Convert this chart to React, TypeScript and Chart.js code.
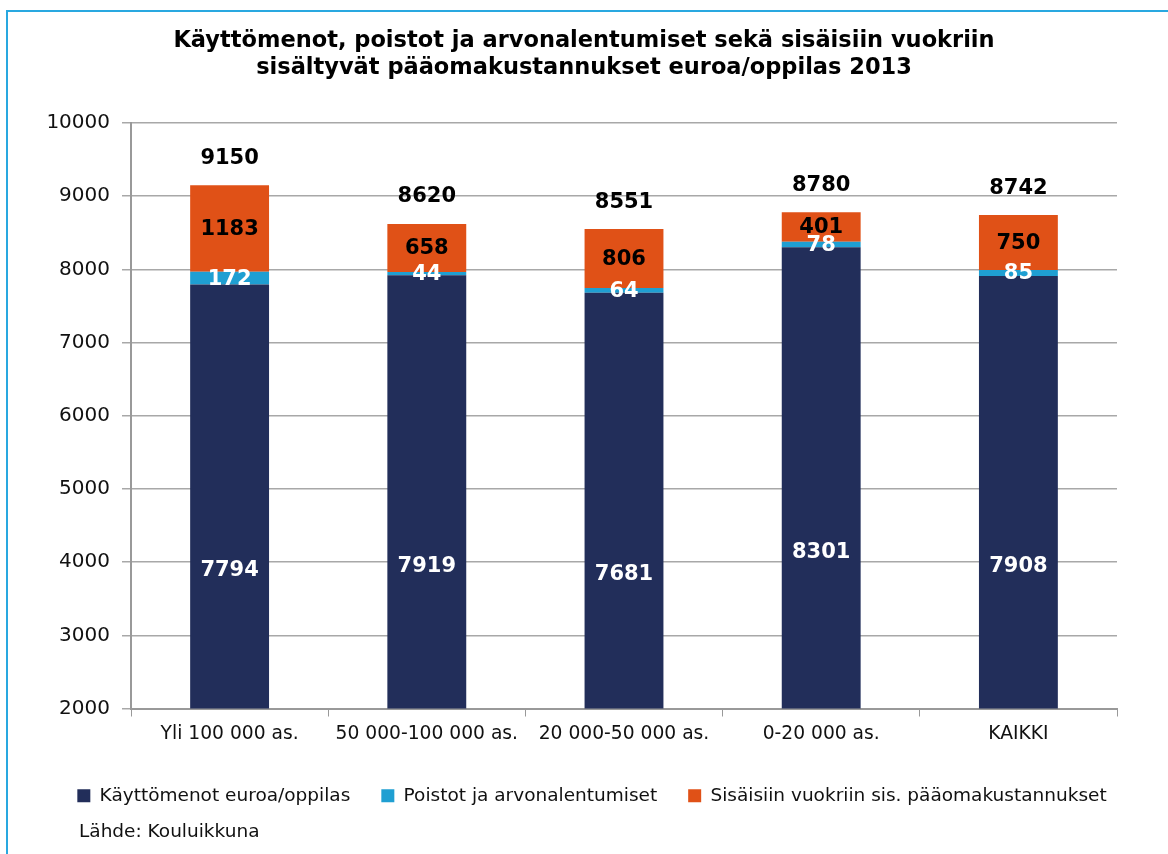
import React, { useEffect, useRef } from "react";
import { Chart, registerables } from "chart.js";

Chart.register(...registerables);

const categories = ["Yli 100 000 as.", "50 000-100 000 as.", "20 000-50 000 as.", "0-20 000 as.", "KAIKKI"];
const operating = [7794, 7919, 7681, 8301, 7908];
const depreciation = [172, 44, 64, 78, 85];
const rentCapital = [1183, 658, 806, 401, 750];
const totals = [9150, 8620, 8551, 8780, 8742];
const seriesNames = [
  "Käyttömenot euroa/oppilas",
  "Poistot ja arvonalentumiset",
  "Sisäisiin vuokriin sis. pääomakustannukset",
];
const titleLines = [
  "Käyttömenot, poistot ja arvonalentumiset sekä sisäisiin vuokriin",
  "sisältyvät pääomakustannukset euroa/oppilas 2013",
];
const sourceText = "Lähde: Kouluikkuna";

const FONT = "'DejaVu Sans', Verdana, sans-serif";
const labelColors = ["#ffffff", "#ffffff", "#000000"];

const labelsPlugin = {
  id: "valueLabels",
  afterLayout(chart: any) {
    const t = chart.titleBlock;
    if (t) {
      t.left -= 8;
      t.right -= 8;
    }
  },
  afterDatasetsDraw(chart: any) {
    const ctx = chart.ctx;
    ctx.save();
    ctx.textAlign = "center";
    ctx.textBaseline = "middle";
    ctx.font = `bold 21px ${FONT}`;
    chart.data.datasets.forEach((ds: any, di: number) => {
      const meta = chart.getDatasetMeta(di);
      meta.data.forEach((bar: any, i: number) => {
        const mid = (bar.y + bar.base) / 2;
        ctx.fillStyle = labelColors[di];
        ctx.fillText(String(ds.data[i]), bar.x, mid + 1);
      });
    });
    const yScale = chart.scales.y;
    const meta0 = chart.getDatasetMeta(0);
    ctx.fillStyle = "#000000";
    totals.forEach((t, i) => {
      const x = meta0.data[i].x;
      ctx.fillText(String(t), x, yScale.getPixelForValue(t) - 27);
    });
    ctx.restore();
  },
  afterDraw(chart: any) {
    const ctx = chart.ctx;
    ctx.save();
    ctx.strokeStyle = "#29a8e0";
    ctx.lineWidth = 2;
    ctx.beginPath();
    ctx.moveTo(7, chart.height);
    ctx.lineTo(7, 11);
    ctx.lineTo(chart.width, 11);
    ctx.stroke();
    ctx.fillStyle = "#111111";
    ctx.font = `18.5px ${FONT}`;
    ctx.textAlign = "left";
    ctx.textBaseline = "middle";
    ctx.fillText(sourceText, 79, 832);
    ctx.restore();
  },
};

export default function App() {
  const ref = useRef<HTMLCanvasElement>(null);
  useEffect(() => {
    if (!ref.current) return;
    const colors = ["#222e5a", "#1f9fd2", "#e05117"];
    const data = [operating, depreciation, rentCapital];
    const chart = new Chart(ref.current, {
      type: "bar",
      data: {
        labels: categories,
        datasets: data.map((d, i) => ({
          label: seriesNames[i],
          data: d,
          backgroundColor: colors[i],
          borderWidth: 0,
          barPercentage: 0.4,
          categoryPercentage: 1,
        })),
      },
      options: {
        animation: false,
        responsive: false,
        maintainAspectRatio: false,
        layout: { padding: { top: 18, left: 26, right: 10, bottom: 39 } },
        scales: {
          x: {
            stacked: true,
            grid: { offset: true, drawOnChartArea: false, drawTicks: true, tickLength: 8, color: "#999999" },
            border: { color: "#999999", width: 2 },
            ticks: { color: "#111111", font: { family: FONT, size: 18.7 }, padding: 6 },
            afterFit: (s: any) => {
              s.height = 47;
            },
          },
          y: {
            stacked: true,
            min: 2000,
            max: 10000,
            grid: { color: "#a8a8a8", lineWidth: 1.5, tickLength: 9 },
            border: { color: "#999999", width: 2 },
            ticks: {
              stepSize: 1000,
              color: "#111111",
              font: { family: FONT, size: 20 },
              padding: 12,
              callback: (v: any) => String(v),
            },
            afterFit: (s: any) => {
              s.width = 105;
            },
          },
          yRight: {
            position: "right",
            display: true,
            grid: { display: false },
            border: { display: false },
            ticks: { display: false },
            afterFit: (s: any) => {
              s.width = 41;
            },
          },
        },
        plugins: {
          title: {
            display: true,
            text: titleLines,
            color: "#000000",
            font: { family: FONT, size: 22.5, weight: "bold", lineHeight: 1.2 },
            padding: { top: 10, bottom: 41 },
          },
          legend: {
            position: "bottom",
            labels: {
              color: "#111111",
              font: { family: FONT, size: 18.5 },
              boxWidth: 13,
              boxHeight: 13,
              padding: 31,
            },
          },
          tooltip: { enabled: false },
        },
      },
      plugins: [labelsPlugin],
    });
    return () => chart.destroy();
  }, []);
  return (
    <div style={{ position: "absolute", left: 0, top: 0, width: 1168, height: 854, background: "#fff" }}>
      <canvas ref={ref} width={1168} height={854} style={{ display: "block" }} />
    </div>
  );
}
